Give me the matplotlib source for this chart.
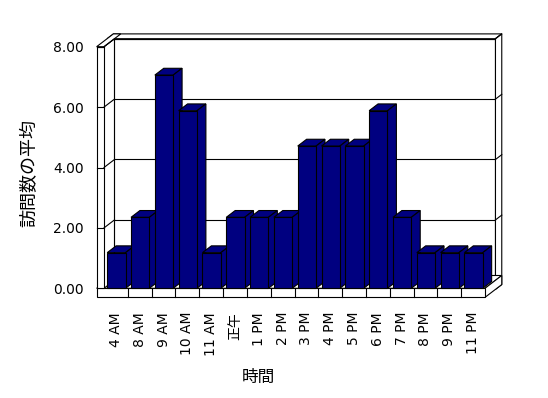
import matplotlib
matplotlib.use('Agg')
import matplotlib.pyplot as plt
from matplotlib.patches import Polygon

# latin text in DejaVu, japanese falls through to Noto CJK
plt.rcParams['font.family'] = ['DejaVu Sans', 'Noto Sans CJK JP']

# data
hours = ['4 AM', '8 AM', '9 AM', '10 AM', '11 AM', '正午', '1 PM', '2 PM',
         '3 PM', '4 PM', '5 PM', '6 PM', '7 PM', '8 PM', '9 PM', '11 PM']
visits = [1.18, 2.35, 7.06, 5.88, 1.18, 2.35, 2.35, 2.35,
          4.71, 4.71, 4.71, 5.88, 2.35, 1.18, 1.18, 1.18]
y_ticks = [0, 2, 4, 6, 8]
y_tick_labels = ['0.00', '2.00', '4.00', '6.00', '8.00']
x_title = '時間'
y_title = '訪問数の平均'

# fake 3d look (excel style): depth direction in data units
DX = 0.44
DY = 0.265
WALL = 0.31     # left wall thickness
FLOOR = 0.3     # floor thickness
BACK = 0.6      # back wall thickness (depth units)
BAR_W = 0.77
BAR_D = 0.85
NAVY = '#000080'
LW = 0.8


def proj(x, y, z):
    return (x + z * DX, y + z * DY)


def face(ax, pts, fc='white', zo=1):
    ax.add_patch(Polygon([proj(*p) for p in pts], closed=True, fc=fc,
                         ec='black', lw=LW, clip_on=False, zorder=zo))


def line(ax, p1, p2, zo=2):
    a = proj(*p1)
    b = proj(*p2)
    ax.plot([a[0], b[0]], [a[1], b[1]], color='black', lw=LW,
            clip_on=False, zorder=zo)


fig = plt.figure(figsize=(5.48, 3.98), dpi=100)
ax = fig.add_axes([104 / 548, 109.7 / 398, 381 / 548, 241.6 / 398])
x0 = -0.5
x1 = len(hours) - 0.5
ymax = y_ticks[-1]
ax.set_xlim(x0, x1)
ax.set_ylim(0, ymax)

# back wall
face(ax, [(x0, 0, 1), (x1, 0, 1), (x1, ymax, 1), (x0, ymax, 1)])
face(ax, [(x0 - WALL, ymax, 1), (x1, ymax, 1), (x1, ymax, 1 + BACK), (x0 - WALL, ymax, 1 + BACK)])
face(ax, [(x1, -FLOOR, 1), (x1, ymax, 1), (x1, ymax, 1 + BACK), (x1, -FLOOR, 1 + BACK)])
for v in y_ticks[1:]:
    line(ax, (x0, v, 1), (x1, v, 1))
    line(ax, (x1, v, 1), (x1, v, 1 + BACK))

# floor
face(ax, [(x0 - WALL, 0, 0), (x1, 0, 0), (x1, 0, 1 + BACK), (x0 - WALL, 0, 1 + BACK)], zo=3)
face(ax, [(x1, -FLOOR, 0), (x1, 0, 0), (x1, 0, 1 + BACK), (x1, -FLOOR, 1 + BACK)], zo=3)
face(ax, [(x0 - WALL, -FLOOR, 0), (x1, -FLOOR, 0), (x1, 0, 0), (x0 - WALL, 0, 0)], zo=3)
for k in range(1, len(hours)):
    line(ax, (x0 + k, -FLOOR, 0), (x0 + k, 0, 0), zo=4)

# left wall
face(ax, [(x0, 0, 0), (x0, 0, 1), (x0, ymax, 1), (x0, ymax, 0)], zo=5)
face(ax, [(x0 - WALL, ymax, 0), (x0, ymax, 0), (x0, ymax, 1 + BACK), (x0 - WALL, ymax, 1 + BACK)], zo=5)
face(ax, [(x0 - WALL, 0, 0), (x0, 0, 0), (x0, ymax, 0), (x0 - WALL, ymax, 0)], zo=5)
for v in y_ticks[1:]:
    line(ax, (x0 - WALL, v, 0), (x0, v, 0), zo=6)
    line(ax, (x0, v, 0), (x0, v, 1), zo=6)

# bars, left to right so each one hides the side of the previous
for i, v in enumerate(visits):
    zo = 10 + i
    xl = i - BAR_W / 2 + 0.02
    xr = xl + BAR_W
    ax.bar(i + 0.02, v, width=BAR_W, color=NAVY, edgecolor='black',
           linewidth=LW, zorder=zo + 0.5, clip_on=False)
    face(ax, [(xl, v, 0), (xr, v, 0), (xr, v, BAR_D), (xl, v, BAR_D)], fc=NAVY, zo=zo)
    face(ax, [(xr, 0, 0), (xr, v, 0), (xr, v, BAR_D), (xr, 0, BAR_D)], fc=NAVY, zo=zo)

ax.set_xticks(range(len(hours)), hours, rotation=90, fontsize=10)
ax.set_yticks(y_ticks, y_tick_labels, fontsize=10)
ax.tick_params(axis='x', length=0, pad=17)
ax.tick_params(axis='y', length=0, pad=14.5)
for s in ax.spines.values():
    s.set_visible(False)
ax.patch.set_visible(False)

ax.set_xlabel(x_title, fontsize=12)
ax.xaxis.set_label_coords(0.404, -0.33)
ax.set_ylabel(y_title, fontsize=13)
ax.yaxis.set_label_coords(-0.172, 0.477)

fig.savefig('out.png', dpi=100, facecolor='white')
